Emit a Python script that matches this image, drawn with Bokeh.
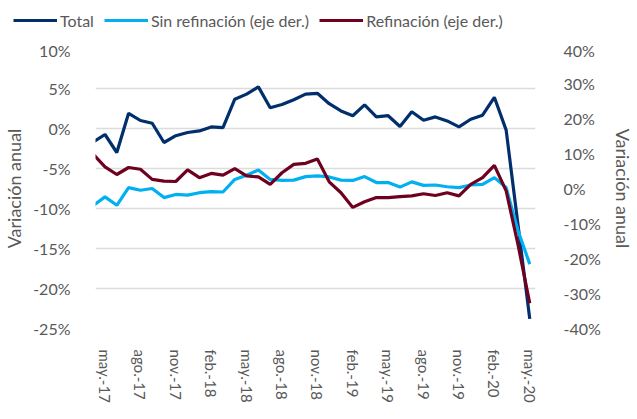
from bokeh.plotting import figure
from bokeh.models import Range1d, LinearAxis, FixedTicker, Legend, LegendItem
from bokeh.layouts import column
from bokeh.embed import file_html
from bokeh.resources import INLINE

months = ["abr.-17", "may.-17", "jun.-17", "jul.-17", "ago.-17", "sep.-17", "oct.-17", "nov.-17", "dic.-17",
          "ene.-18", "feb.-18", "mar.-18", "abr.-18", "may.-18", "jun.-18", "jul.-18", "ago.-18",
          "sep.-18", "oct.-18", "nov.-18", "dic.-18", "ene.-19", "feb.-19", "mar.-19", "abr.-19",
          "may.-19", "jun.-19", "jul.-19", "ago.-19", "sep.-19", "oct.-19", "nov.-19", "dic.-19",
          "ene.-20", "feb.-20", "mar.-20", "abr.-20", "may.-20"]

total = [-1.7, -0.75, -3.0, 1.9, 1.0, 0.66, -1.75, -0.9, -0.5, -0.3, 0.2,
         0.1, 3.66, 4.3, 5.2, 2.6, 3.0, 3.6, 4.3, 4.4, 3.1,
         2.2, 1.6, 2.95, 1.45, 1.6, 0.25, 2.1, 1.04, 1.45, 0.95,
         0.2, 1.16, 1.66, 3.9, -0.2, -12.0, -23.8]

sin_refinacion = [-4.9, -2.4, -4.8, 0.26, -0.5, 0.0, -2.6, -1.7, -1.9, -1.2, -0.9,
                  -1.0, 2.6, 3.8, 5.3, 2.6, 2.3, 2.4, 3.4, 3.6, 3.3,
                  2.4, 2.3, 3.4, 1.7, 1.7, 0.4, 1.9, 0.9, 1.0, 0.5,
                  0.26, 1.0, 1.2, 3.1, 0.26, -12.0, -21.6]

refinacion = [9.8, 6.2, 4.0, 6.0, 5.5, 2.6, 2.1, 2.0, 5.3, 3.1, 4.3,
              3.8, 5.7, 3.6, 3.3, 1.2, 4.5, 6.9, 7.2, 8.4, 1.9,
              -1.2, -5.4, -3.8, -2.6, -2.6, -2.3, -2.1, -1.5, -2.0, -1.2,
              -2.1, 1.2, 3.1, 6.6, -0.7, -16.0, -32.8]

left_ticks = [-25, -20, -15, -10, -5, 0, 5, 10]
right_ticks = [-40, -30, -20, -10, 0, 10, 20, 30, 40]
label_every = 3
first_label = 1  # may.-17

FONT = "Lato"
GREY = "#595959"
C_TOTAL, C_SIN, C_REF = "#002F6C", "#00B0F0", "#6E0020"

x = list(range(len(months)))

W = 636
BL, BR, BT, BB = 92, 95, 8, 82
FRAME_H = 280
H = BT + FRAME_H + BB
STEP = 12.04
x_start = first_label - 9.7 / STEP
x_end = x_start + (W - BL - BR) / STEP

p = figure(width=W, height=H, output_backend="svg", toolbar_location=None,
           x_range=Range1d(x_start, x_end), y_range=Range1d(-25, 10),
           min_border_left=BL, min_border_right=BR, min_border_bottom=BB, min_border_top=BT)
p.extra_y_ranges = {"right": Range1d(-40, 40)}
p.outline_line_color = None
p.background_fill_color = "white"

p.line(x, total, line_color=C_TOTAL, line_width=3.2)
p.line(x, sin_refinacion, line_color=C_SIN, line_width=3.2, y_range_name="right")
p.line(x, refinacion, line_color=C_REF, line_width=3.2, y_range_name="right")

# x axis
xa = p.xaxis[0]
tick_idx = x[first_label::label_every]
xa.ticker = FixedTicker(ticks=tick_idx)
xa.major_label_overrides = {i: months[i] for i in tick_idx}
xa.major_label_orientation = "vertical"
xa.axis_line_color = None
xa.major_tick_line_color = None
xa.minor_tick_line_color = None
xa.major_label_standoff = 15
xa.major_label_text_font = FONT
xa.major_label_text_font_size = "15px"
xa.major_label_text_color = GREY

# left axis
ya = p.yaxis[0]
ya.ticker = FixedTicker(ticks=left_ticks)
ya.major_label_overrides = {t: f"{t}%" for t in left_ticks}
ya.axis_line_color = None
ya.major_tick_line_color = None
ya.minor_tick_line_color = None
ya.major_label_standoff = 19
ya.major_label_text_font = FONT
ya.major_label_text_font_size = "16px"
ya.major_label_text_color = GREY
ya.axis_label = "Variación anual"
ya.axis_label_text_font = FONT
ya.axis_label_text_font_size = "18px"
ya.axis_label_text_font_style = "normal"
ya.axis_label_text_color = GREY
ya.axis_label_standoff = 5

# right axis
ra = LinearAxis(y_range_name="right", ticker=FixedTicker(ticks=right_ticks))
ra.major_label_overrides = {t: f"{t}%" for t in right_ticks}
ra.axis_line_color = None
ra.major_tick_line_color = None
ra.minor_tick_line_color = None
ra.major_label_standoff = 22
ra.major_label_text_font = FONT
ra.major_label_text_font_size = "16px"
ra.major_label_text_color = GREY
ra.axis_label = "Variación anual"
ra.axis_label_text_font = FONT
ra.axis_label_text_font_size = "18px"
ra.axis_label_text_font_style = "normal"
ra.axis_label_text_color = GREY
ra.axis_label_standoff = 8
p.add_layout(ra, "right")

p.xgrid.grid_line_color = None
p.ygrid.grid_line_color = "#DCDCDC"
p.ygrid.grid_line_width = 1.3

# legend strip on top (its lines use the same data, kept out of view)
leg = figure(width=W, height=40, output_backend="svg", toolbar_location=None,
             x_range=Range1d(0, 1), y_range=Range1d(1000, 1001),
             x_axis_location=None, y_axis_location=None,
             min_border_left=0, min_border_right=0, min_border_top=0, min_border_bottom=0)
if "frame_align" in leg.properties():
    leg.frame_align = False
leg.outline_line_color = None
leg.xgrid.grid_line_color = None
leg.ygrid.grid_line_color = None
l1 = leg.line(x, total, line_color=C_TOTAL, line_width=3.2)
l2 = leg.line(x, sin_refinacion, line_color=C_SIN, line_width=3.2)
l3 = leg.line(x, refinacion, line_color=C_REF, line_width=3.2)
legend = Legend(items=[LegendItem(label="Total", renderers=[l1]),
                       LegendItem(label="Sin refinación (eje der.)", renderers=[l2]),
                       LegendItem(label="Refinación (eje der.)", renderers=[l3])],
                orientation="horizontal", location="left")
legend.label_text_font = FONT
legend.label_text_font_size = "16px"
legend.label_text_color = GREY
legend.glyph_width = 44
legend.label_standoff = 3
legend.spacing = 10
legend.padding = 0
legend.margin = 13
legend.border_line_color = None
legend.background_fill_alpha = 0
leg.add_layout(legend, "center")

layout = column(leg, p, spacing=0)
open("out.html", "w").write(file_html(layout, INLINE))
